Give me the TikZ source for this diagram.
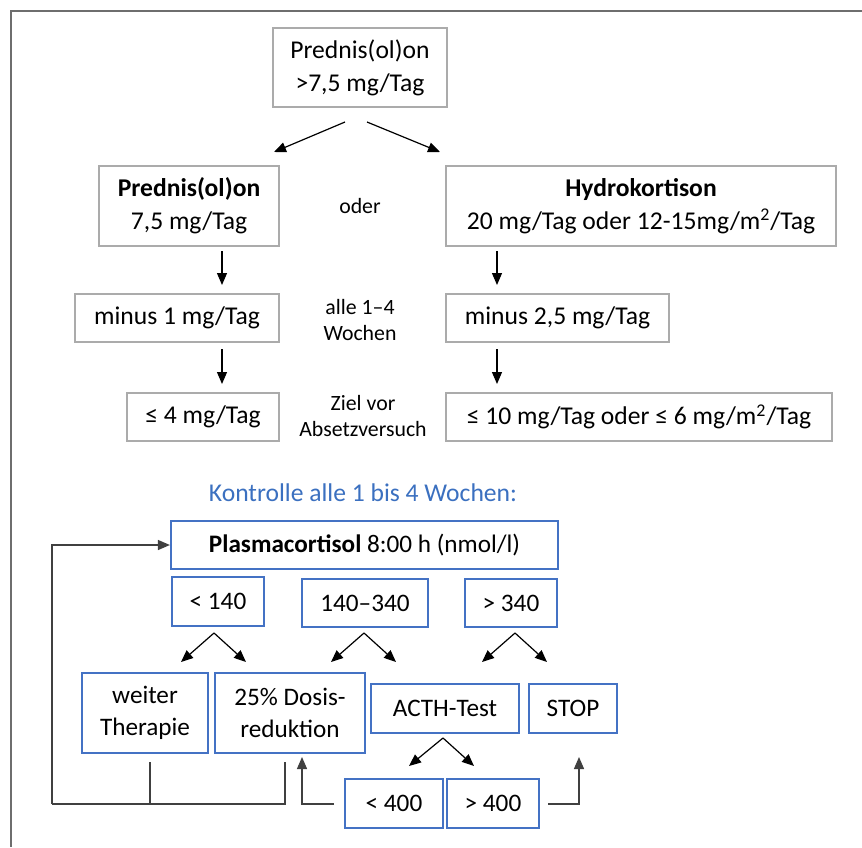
\documentclass[tikz,border=0pt]{standalone}
\usepackage{fontspec}
\setmainfont{Carlito}
\usetikzlibrary{arrows.meta}
\definecolor{boxgray}{HTML}{ABABAB}
\definecolor{boxblue}{HTML}{4472C4}
\definecolor{txtblue}{HTML}{3B70C0}
\definecolor{framegray}{HTML}{6E6E6E}
\definecolor{linegray}{HTML}{404040}
\tikzset{
  graybox/.style={draw=boxgray, line width=1.4pt, inner sep=0pt, align=center, font=\fontsize{12.8}{16.5}\selectfont},
  bluebox/.style={draw=boxblue, line width=1.1pt, inner sep=0pt, align=center, font=\fontsize{12.6}{16}\selectfont},
  note/.style={inner sep=0pt, align=center, font=\fontsize{10.9}{12.8}\selectfont},
  arr/.style={-{Triangle[length=6pt,width=5pt]}, line width=0.6pt, black},
  fb/.style={line width=0.7pt, linegray},
  fbarr/.style={fb, -{Triangle[length=6pt,width=5pt]}},
}
\begin{document}
\begin{tikzpicture}[x=0.5pt,y=-0.5pt]
\useasboundingbox (0,0) rectangle (862,847);
\fill[white] (0,0) rectangle (862,847);
\draw[framegray, line width=0.8pt] (862,11) -| (11,847);

% upper part
\node[graybox, minimum width=87pt, minimum height=39.5pt] (top) at (360,67.5) {Prednis(ol)on\\>7,5 mg/Tag};
\node[graybox, minimum width=90pt, minimum height=40pt] (l2) at (189,206) {\textbf{Prednis(ol)on}\\7,5 mg/Tag};
\node[graybox, minimum width=195pt, minimum height=40pt] (r2) at (641,206) {\textbf{Hydrokortison}\\20 mg/Tag oder 12-15mg/m\textsuperscript{2}/Tag};
\node[note] (oder) at (360,206) {oder};
\node[graybox, minimum width=102pt, minimum height=24pt] (l3) at (177,318) {minus 1 mg/Tag};
\node[graybox, minimum width=111.5pt, minimum height=24pt] (r3) at (557.5,318) {minus 2,5 mg/Tag};
\node[note] (alle) at (360,320) {alle 1–4\\Wochen};
\node[graybox, minimum width=76pt, minimum height=24pt] (l4) at (203,417) {≤ 4 mg/Tag};
\node[graybox, minimum width=193pt, minimum height=24pt] (r4) at (639,417) {≤ 10 mg/Tag oder ≤ 6 mg/m\textsuperscript{2}/Tag};
\node[note] (ziel) at (363,416) {Ziel vor\\Absetzversuch};

\coordinate (t1s) at (345,122); \coordinate (t1e) at (274,152);
\coordinate (t2s) at (367,122); \coordinate (t2e) at (440,152);
\draw[arr] (t1s) -- (t1e);
\draw[arr] (t2s) -- (t2e);
\coordinate (d1s) at (222,251); \coordinate (d1e) at (222,285);
\coordinate (d2s) at (497,251); \coordinate (d2e) at (497,285);
\coordinate (d3s) at (222,349); \coordinate (d3e) at (222,384);
\coordinate (d4s) at (497,349); \coordinate (d4e) at (497,384);
\draw[arr] (d1s) -- (d1e);
\draw[arr] (d2s) -- (d2e);
\draw[arr] (d3s) -- (d3e);
\draw[arr] (d4s) -- (d4e);

% lower part
\node[inner sep=0pt, text=txtblue, font=\fontsize{12.8}{15}\selectfont] (ktl) at (363,493) {Kontrolle alle 1 bis 4 Wochen:};
\node[bluebox, minimum width=193.5pt, minimum height=24pt] (pc) at (364.5,545) {\textbf{Plasmacortisol} 8:00 h (nmol/l)};
\node[bluebox, minimum width=46pt, minimum height=24.5pt] (v1) at (218,601.5) {< 140};
\node[bluebox, minimum width=63pt, minimum height=24pt] (v2) at (365,603) {140–340};
\node[bluebox, minimum width=46pt, minimum height=24pt] (v3) at (511,603) {> 340};
\node[bluebox, minimum width=63pt, minimum height=40pt] (wt) at (145,713) {weiter\\Therapie};
\node[bluebox, minimum width=75pt, minimum height=40pt] (dr) at (290,713) {25\% Dosis-\\reduktion};
\node[bluebox, minimum width=74pt, minimum height=24.5pt] (acth) at (445,708.5) {ACTH-Test};
\node[bluebox, minimum width=44pt, minimum height=24.5pt] (stop) at (573,708.5) {STOP};
\node[bluebox, minimum width=49pt, minimum height=24.5pt] (a1) at (394,803.5) {< 400};
\node[bluebox, minimum width=46pt, minimum height=24.5pt] (a2) at (493,803.5) {> 400};

\coordinate (s1) at (214,633); \coordinate (s1l) at (181,662); \coordinate (s1r) at (246,662);
\coordinate (s2) at (364,633); \coordinate (s2l) at (331,662); \coordinate (s2r) at (396,662);
\coordinate (s3) at (515,633); \coordinate (s3l) at (482,662); \coordinate (s3r) at (547,662);
\coordinate (s4) at (443,738); \coordinate (s4l) at (409,766); \coordinate (s4r) at (474,766);
\foreach \s in {s1,s2,s3,s4}{
  \draw[arr] (\s) -- (\s l);
  \draw[arr] (\s) -- (\s r);
}

% feedback lines
\coordinate (f1) at (150,762); \coordinate (f1b) at (150,804);
\coordinate (f2) at (285,762); \coordinate (f2b) at (285,804);
\coordinate (f0) at (52,804);
\draw[fb] (f1) -- (f1b);
\draw[fb] (f2) -- (f2b) -- (f0);
\draw[fbarr] (f0) |- (pc.west);
\coordinate (g1) at (334,804); \coordinate (g1e) at (302,757);
\draw[fbarr] (g1) -| (g1e);
\coordinate (g2) at (548,804); \coordinate (g2e) at (579,757);
\draw[fbarr] (g2) -| (g2e);
\end{tikzpicture}
\end{document}
